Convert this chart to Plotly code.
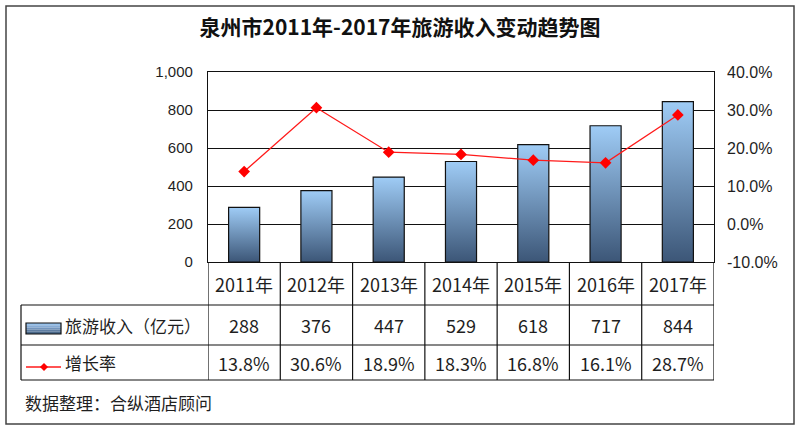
import plotly.graph_objects as go

# =============================================================================
# DATA
# =============================================================================

years = ['2011年', '2012年', '2013年', '2014年', '2015年', '2016年', '2017年']
income = [288, 376, 447, 529, 618, 717, 844]          # 旅游收入（亿元）
growth = [0.138, 0.306, 0.189, 0.183, 0.168, 0.161, 0.287]  # 增长率
growth_text = ['13.8%', '30.6%', '18.9%', '18.3%', '16.8%', '16.1%', '28.7%']
left_ticks = [0, 200, 400, 600, 800, 1000]
right_ticks = [-0.1, 0.0, 0.1, 0.2, 0.3, 0.4]
right_ticktext = ['-10.0%', '0.0%', '10.0%', '20.0%', '30.0%', '40.0%']

# =============================================================================
# STYLE
# =============================================================================

W, H = 800, 431
L, R, T, B = 208, 86, 72, 169
PW, PH = W - L - R, H - T - B

def px(x):  # pixel -> paper x
    return (x - L) / PW

def py(y):  # pixel -> paper y
    return (H - B - y) / PH

TXT = '#1f1f1f'
CJK = 'Noto Sans CJK SC'
LAT = 'Liberation Sans'
bar_light = '#9fccf6'
bar_dark = '#3c5677'
half_w = 0.215

fig = go.Figure()

# bars drawn as filled polygons so each can carry a vertical gradient
for i, v in enumerate(income):
    fig.add_trace(go.Scatter(
        x=[i - half_w, i - half_w, i + half_w, i + half_w, i - half_w],
        y=[0, v, v, 0, 0],
        mode='lines',
        fill='toself',
        fillgradient=dict(type='vertical',
                          colorscale=[[0, bar_dark], [1, bar_light]]),
        line=dict(color='#111111', width=1.2),
        showlegend=False,
        hoverinfo='skip',
    ))

fig.add_trace(go.Scatter(
    x=list(range(len(years))),
    y=growth,
    yaxis='y2',
    mode='lines+markers',
    line=dict(color='#ff1a1a', width=1.3),
    marker=dict(symbol='diamond', size=9, color='#ff0000'),
    showlegend=False,
    cliponaxis=False,
    hovertemplate='%{y:.1%}<extra></extra>',
))

# =============================================================================
# TABLE UNDER THE PLOT (shapes + annotations)
# =============================================================================

shapes = []
line_style = dict(color='#111111', width=1.2)
row_top, row1, row2, row3 = H - B, 305, 345, 380
n = len(years)

# horizontal rules
for yy in (row1, row2, row3):
    shapes.append(dict(type='line', xref='paper', yref='paper',
                       x0=px(21), x1=1, y0=py(yy), y1=py(yy), line=line_style))
# vertical rules at column edges
for k in range(n + 1):
    shapes.append(dict(type='line', xref='x', yref='paper',
                       x0=k - 0.5, x1=k - 0.5, y0=0, y1=py(row3), line=line_style))
shapes.append(dict(type='line', xref='paper', yref='paper',
                   x0=px(21), x1=px(21), y0=py(row1), y1=py(row3), line=line_style))

# legend swatch: bar (stacked strips for a simple gradient)
strips = ['#97c1ea', '#86acd6', '#7395bd', '#5f7ea3', '#4a6889']
sy0, sy1 = 323, 334
step = (sy1 - sy0) / len(strips)
for j, c in enumerate(strips):
    shapes.append(dict(type='rect', xref='paper', yref='paper',
                       x0=px(26), x1=px(61),
                       y0=py(sy0 + j * step), y1=py(sy0 + (j + 1) * step),
                       fillcolor=c, line=dict(width=0)))
shapes.append(dict(type='rect', xref='paper', yref='paper',
                   x0=px(26), x1=px(61), y0=py(sy0), y1=py(sy1),
                   line=dict(color='#111111', width=1.2)))
# legend swatch: red line with diamond
shapes.append(dict(type='line', xref='paper', yref='paper',
                   x0=px(26), x1=px(61), y0=py(367), y1=py(367),
                   line=dict(color='#ff1a1a', width=1.3)))
shapes.append(dict(type='path', xref='paper', yref='paper',
                   path='M {} {} L {} {} L {} {} L {} {} Z'.format(
                       px(44), py(363), px(48), py(367), px(44), py(371), px(40), py(367)),
                   fillcolor='#ff0000', line=dict(width=0)))

# outer frame
shapes.append(dict(type='rect', xref='paper', yref='paper',
                   x0=px(6), x1=px(794), y0=py(6), y1=py(424),
                   line=dict(color='#444444', width=1.5), layer='below'))

annotations = []
cell_font = dict(family=CJK, size=18, color=TXT)
for i in range(n):
    annotations.append(dict(x=i, y=py((row_top + row1) / 2), xref='x', yref='paper',
                            yanchor='middle', text=years[i], showarrow=False,
                            font=cell_font))
    annotations.append(dict(x=i, y=py((row1 + row2) / 2), xref='x', yref='paper',
                            yanchor='middle', text=str(income[i]), showarrow=False,
                            font=cell_font))
    annotations.append(dict(x=i, y=py((row2 + row3) / 2), xref='x', yref='paper',
                            yanchor='middle', text=growth_text[i], showarrow=False,
                            font=cell_font))

label_font = dict(family=CJK, size=17, color=TXT)
annotations.append(dict(x=px(63), y=py((row1 + row2) / 2), xref='paper', yref='paper',
                        xanchor='left', yanchor='middle', text='旅游收入（亿元）',
                        showarrow=False, font=label_font))
annotations.append(dict(x=px(63), y=py((row2 + row3) / 2), xref='paper', yref='paper',
                        xanchor='left', yanchor='middle', text='增长率',
                        showarrow=False, font=label_font))
annotations.append(dict(x=px(23), y=py(402), xref='paper', yref='paper',
                        xanchor='left', yanchor='middle', text='数据整理：合纵酒店顾问',
                        showarrow=False, font=dict(family=CJK, size=17, color=TXT)))

# =============================================================================
# LAYOUT
# =============================================================================

fig.update_layout(
    width=W, height=H,
    margin=dict(l=L, r=R, t=T, b=B),
    paper_bgcolor='white',
    plot_bgcolor='white',
    title=dict(text='<b>泉州市2011年-2017年旅游收入变动趋势图</b>',
               x=0.5, xanchor='center', y=1 - 28 / H, yanchor='middle',
               font=dict(family=CJK, size=21, color='#111111')),
    xaxis=dict(range=[-0.5, n - 0.5], showticklabels=False, showgrid=False,
               zeroline=False, showline=True, linecolor='#111111', linewidth=1.2,
               mirror=True, fixedrange=True),
    yaxis=dict(range=[0, 1000], tickvals=left_ticks, tickformat=',',
               showgrid=True, gridcolor='#111111', gridwidth=1.2,
               zeroline=False, showline=True, linecolor='#111111', linewidth=1.2,
               mirror=True, ticks='', ticklabelstandoff=11,
               tickfont=dict(family=LAT, size=15, color=TXT)),
    yaxis2=dict(range=[-0.1, 0.4], overlaying='y', side='right',
                tickvals=right_ticks, ticktext=right_ticktext,
                showgrid=False, zeroline=False, ticks='', ticklabelstandoff=12,
                tickfont=dict(family=LAT, size=16, color=TXT)),
    shapes=shapes,
    annotations=annotations,
    hovermode='closest',
)

# page margin off so the figure sits at the window's top-left corner
fig.write_html('out.html', config={'displayModeBar': False},
               post_script="document.body.style.margin='0px';")
